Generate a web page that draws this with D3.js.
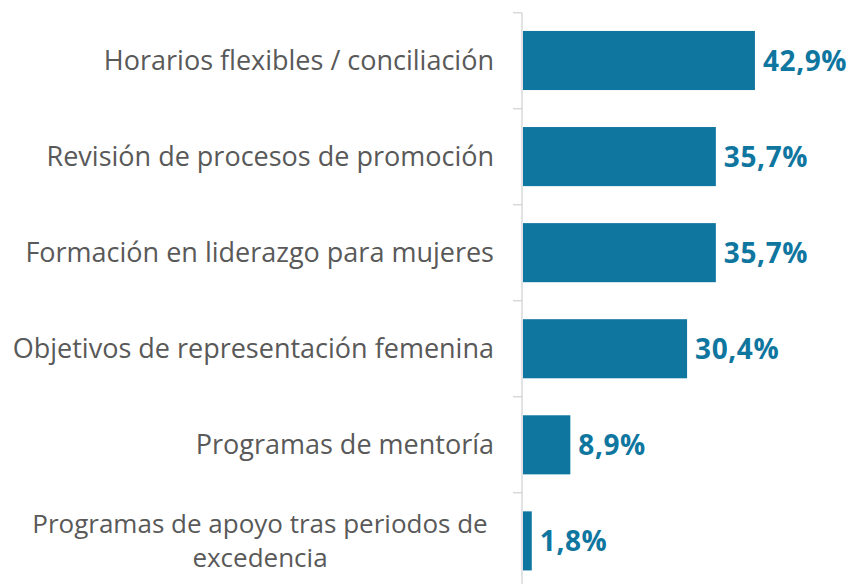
<!DOCTYPE html>
<html>
<head>
<meta charset="utf-8">
<script src="https://cdn.jsdelivr.net/npm/d3@7"></script>
<style>
  body { margin: 0; background: #fff; }
  svg { display: block; }
</style>
</head>
<body>
<div class="canvas"></div>
<script>
const categories = [
  'Horarios flexibles / conciliación',
  'Revisión de procesos de promoción',
  'Formación en liderazgo para mujeres',
  'Objetivos de representación femenina',
  'Programas de mentoría',
  'Programas de apoyo tras periodos de excedencia'
]
const values = [42.9, 35.7, 35.7, 30.4, 8.9, 1.8]
// how the long label breaks in the original
const labelLines = [
  ['Horarios flexibles / conciliación'],
  ['Revisión de procesos de promoción'],
  ['Formación en liderazgo para mujeres'],
  ['Objetivos de representación femenina'],
  ['Programas de mentoría'],
  ['Programas de apoyo tras periodos de', 'excedencia']
]

const width = 853, height = 584
const barColor = '#0f76a0'

const svg = d3.select('.canvas')
              .append('svg')
              .attr('width', width)
              .attr('height', height)

const x0 = 522
const x = d3.scaleLinear().domain([0, 50]).range([x0, x0 + 5.43 * 50])
const y = d3.scaleBand().domain(categories).range([12.7, 588.7]).paddingInner(0.385).paddingOuter(0.19)
const band = d3.scaleBand().domain(categories).range([12.7, 588.7])

// axis line + ticks at band boundaries
svg.append('line')
   .attr('x1', x0).attr('x2', x0)
   .attr('y1', 12.7).attr('y2', height)
   .attr('stroke', '#d9d9d9').attr('stroke-width', 1.5)

svg.selectAll('.tick')
   .data(categories)
   .enter().append('line')
   .attr('class', 'tick')
   .attr('x1', x0 - 9).attr('x2', x0)
   .attr('y1', d => band(d)).attr('y2', d => band(d))
   .attr('stroke', '#d9d9d9').attr('stroke-width', 1.5)

const rows = categories.map((c, i) => ({cat: c, value: values[i], lines: labelLines[i]}))

svg.selectAll('rect')
   .data(rows)
   .enter().append('rect')
   .attr('x', x(0) + 1)
   .attr('y', d => y(d.cat))
   .attr('width', d => x(d.value) - x(0) - 1)
   .attr('height', y.bandwidth())
   .attr('fill', barColor)

svg.selectAll('.val')
   .data(rows)
   .enter().append('text')
   .attr('class', 'val')
   .attr('x', d => x(d.value) + 8)
   .attr('y', d => y(d.cat) + y.bandwidth() / 2)
   .attr('dy', '0.36em')
   .attr('font-family', 'Open Sans, sans-serif')
   .attr('font-weight', 'bold')
   .attr('font-size', 28)
   .attr('letter-spacing', 0.6)
   .attr('fill', barColor)
   .text(d => d3.format('.1f')(d.value).replace('.', ',') + '%')

// category labels, one text element per line
const labelRows = []
rows.forEach(d => {
  const n = d.lines.length
  d.lines.forEach((l, i) => labelRows.push({cat: d.cat, text: l, n: n, i: i}))
})

svg.selectAll('.cat')
   .data(labelRows)
   .enter().append('text')
   .attr('class', 'cat')
   .attr('font-family', 'Open Sans, sans-serif')
   .attr('font-size', d => d.n > 1 ? 26 : 27)
   .attr('fill', '#595959')
   .attr('text-anchor', d => d.n > 1 ? 'middle' : 'end')
   .attr('x', d => d.n > 1 ? 260 : 494)
   .attr('y', d => band(d.cat) + band.bandwidth() / 2 + (d.i - (d.n - 1) / 2) * 34.5)
   .attr('dy', '0.35em')
   .text(d => d.text)
</script>
</body>
</html>
